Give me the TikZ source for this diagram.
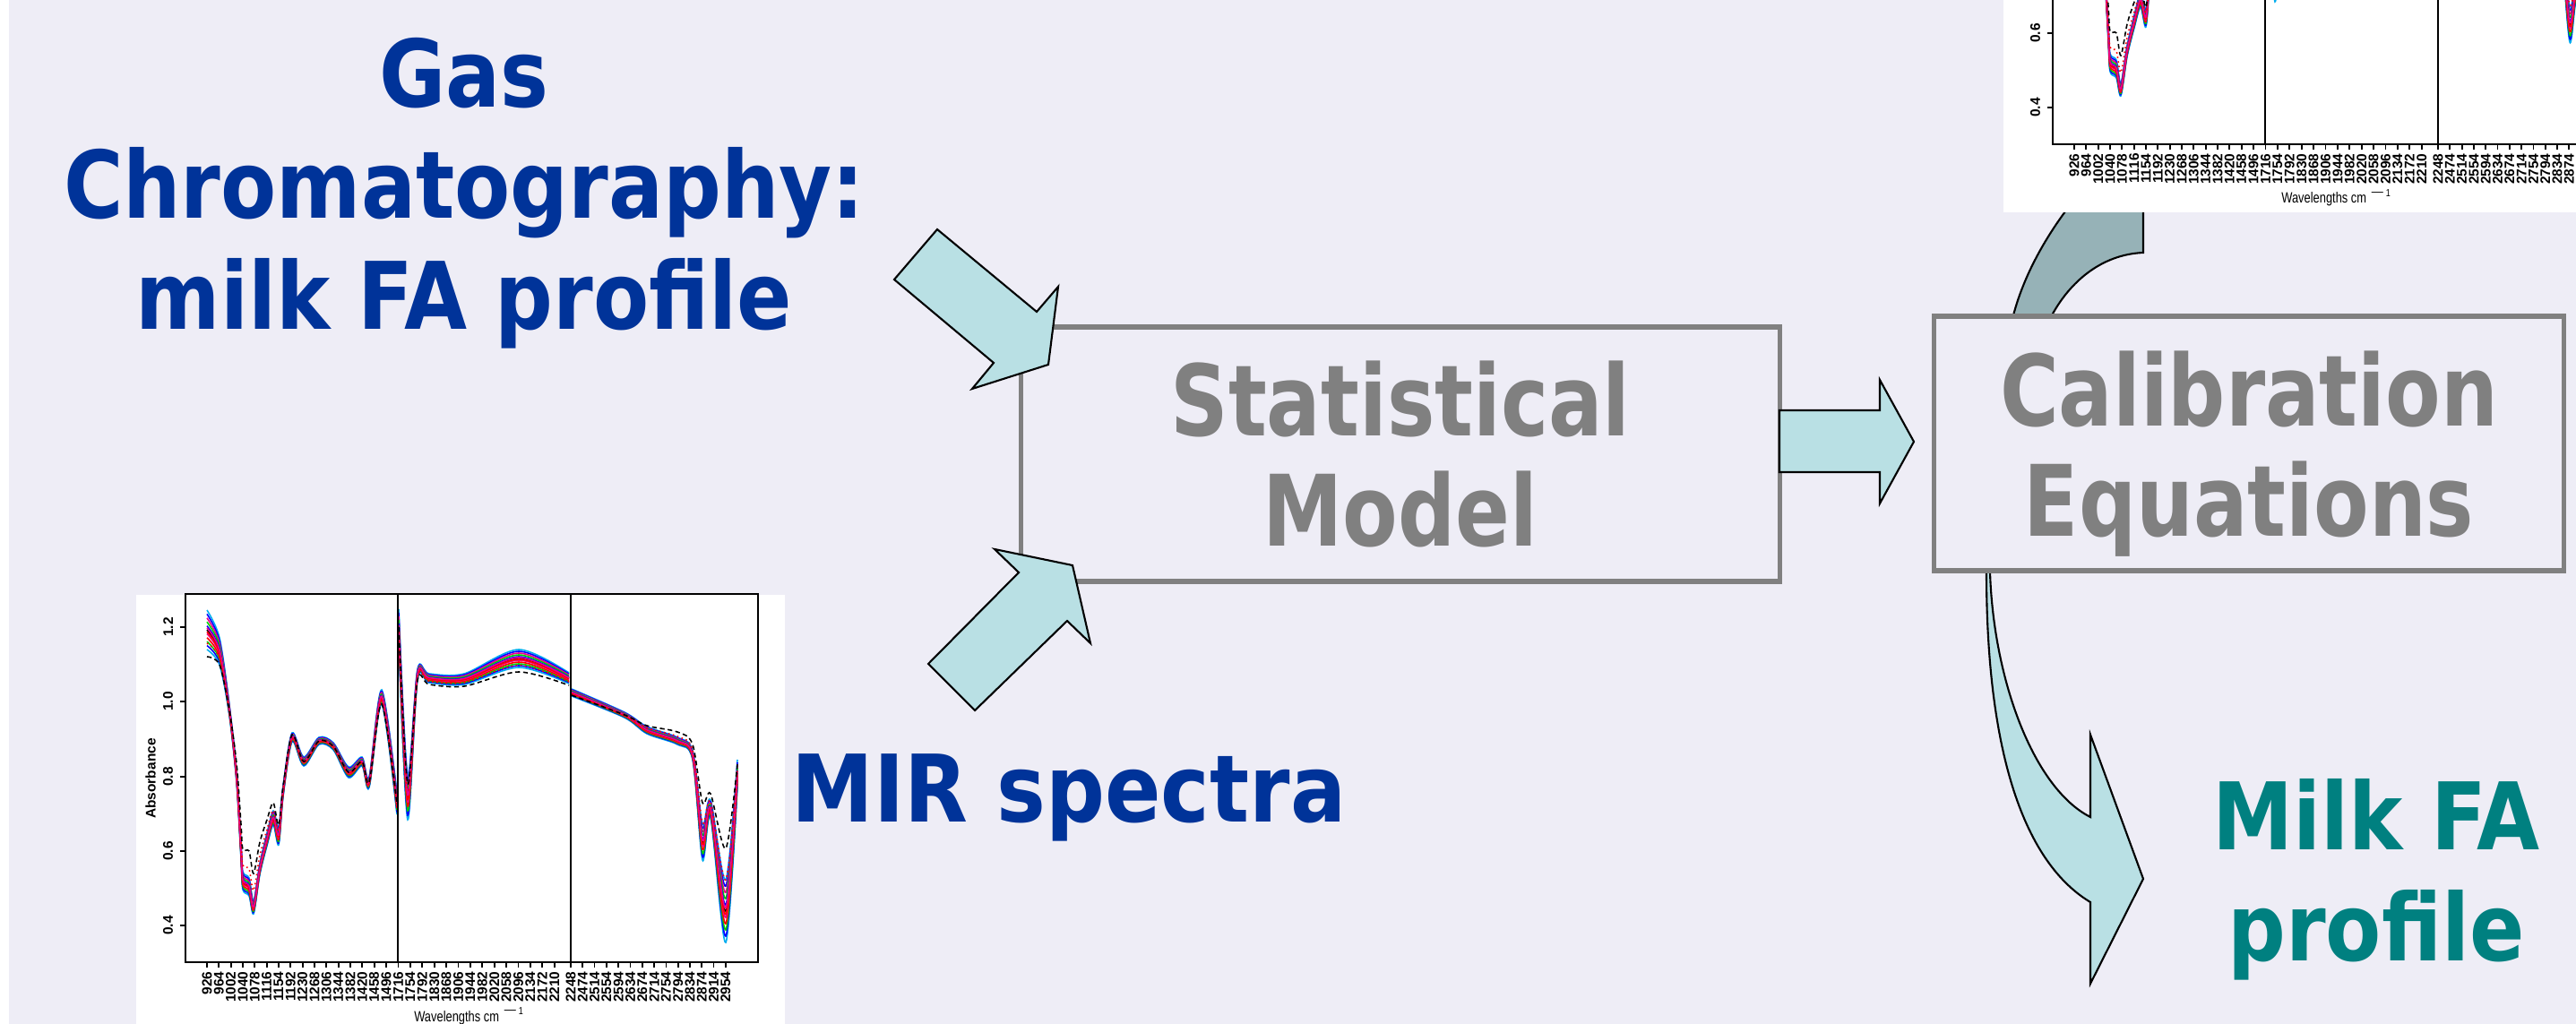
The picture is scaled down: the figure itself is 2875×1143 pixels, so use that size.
\documentclass[tikz,border=0pt]{standalone}
\usepackage{fontspec}
\newfontfamily\titlefont[FakeStretch=0.87]{DejaVu Sans}
\newfontfamily\mirfont[FakeStretch=0.885]{DejaVu Sans}
\newfontfamily\boxfont[FakeStretch=0.815]{DejaVu Sans}
\newfontfamily\axisfont{Liberation Sans}
\newfontfamily\narrowfont[FakeStretch=0.78]{Liberation Sans}
\definecolor{lavender}{RGB}{238,237,246}
\definecolor{gcblue}{RGB}{0,51,153}
\definecolor{milkteal}{RGB}{0,128,128}
\definecolor{boxgrey}{RGB}{128,128,128}
\definecolor{arrowcyan}{RGB}{185,224,228}
\definecolor{loopgrey}{RGB}{150,178,183}
\definecolor{rgreen}{RGB}{0,205,0}

% one spectrum: #1 spread factor, #2 outlier factor, #3 line style
\newcommand{\specline}[3]{%
  \draw[line width=0.45pt,#3] plot[smooth,tension=0.5] coordinates {
    (231,{703+(#1)*22+(#2)*30}) (245,{727+(#1)*15+(#2)*15})
    (256,{793+(#1)*6}) (264,{867+(#1)*6-(#2)*15})
    (269,{950+(#1)*8-(#2)*30}) (271,{983+(#1)*10-(#2)*35})
    (278,{990+(#1)*10-(#2)*40}) (283,{1013+(#1)*7-(#2)*38})
    (290,{970+(#1)*6-(#2)*30}) (298,{937+(#1)*7-(#2)*22})
    (305,{913+(#1)*8-(#2)*17}) (311,{933+(#1)*10-(#2)*12})
    (316,{883+(#1)*6-(#2)*5}) (326,{823+(#1)*5-(#2)*3})
    (339,{850+(#1)*5}) (356,{827+(#1)*4}) (372,{833+(#1)*4})
    (389,{862+(#1)*6}) (404,{850+(#1)*5}) (412,{873+(#1)*6})
    (426,{778+(#1)*8+(#2)*8}) (443,{897+(#1)*12})};
  \draw[line width=0.45pt,#3] plot[smooth,tension=0.5] coordinates {
    (445,{700+(#1)*20}) (455,{890+(#1)*25-(#2)*15})
    (466,{753+(#1)*6+(#2)*6}) (479,{757+(#1)*5+(#2)*7})
    (518,{758+(#1)*6+(#2)*8}) (579,{735+(#1)*10+(#2)*15})
    (635,{757+(#1)*6+(#2)*8})};
  \draw[line width=0.45pt,#3] plot[smooth,tension=0.5] coordinates {
    (638,{773+(#1)*4+(#2)*3}) (697,{798+(#1)*3})
    (722,{815+(#1)*4-(#2)*5}) (756,{827+(#1)*4-(#2)*10})
    (773,{843+(#1)*5-(#2)*12}) (784,{940+(#1)*20-(#2)*44})
    (793,{903+(#1)*10-(#2)*17}) (810,{1017+(#1)*35-(#2)*70})
    (823,{863+(#1)*15-(#2)*10})};
}

% the MIR absorbance plot, #1 prefix for node names
\newcommand{\spectrumplot}[1]{%
  \fill[white] (152,664) rectangle (876,1150);
  \foreach \k/\clr in {1/cyan,-1/cyan,0.8/blue,-0.8/blue,0.6/rgreen,-0.6/magenta,0.4/red,-0.4/rgreen,0.2/magenta,-0.2/blue,0/black,0.1/red,-0.1/magenta}
    {\specline{\k}{0}{color=\clr}}
  \specline{0}{0.5}{red,densely dotted}
  \specline{0}{1}{black,dash pattern=on 1.5pt off 1pt}
  \draw[line width=0.5pt] (207,663) rectangle (846,1074) (444,663) -- (444,1074) (637,663) -- (637,1074);
  \foreach \v/\y [count=\j] in {1.2/700,1.0/783,0.8/867,0.6/950,0.4/1033}
    {\draw[line width=0.5pt] (207,\y) -- (201,\y) node[ytick] (#1y\j) {\v};}
  \foreach \w [count=\i from 0] in {926,964,1002,1040,1078,1116,1154,1192,1230,1268,1306,1344,1382,1420,1458,1496}
    {\draw[line width=0.5pt] (231+\i*13.33,1074) -- ++(0,6) node[xtick] (#1xa\i) {\w};}
  \foreach \w [count=\i from 0] in {1716,1754,1792,1830,1868,1906,1944,1982,2020,2058,2096,2134,2172,2210}
    {\draw[line width=0.5pt] (444.5+\i*13.4,1074) -- ++(0,6) node[xtick] (#1xb\i) {\w};}
  \foreach \w [count=\i from 0] in {2248,2474,2514,2554,2594,2634,2674,2714,2754,2794,2834,2874,2914,2954}
    {\draw[line width=0.5pt] (637+\i*13.3,1074) -- ++(0,6) node[xtick] (#1xc\i) {\w};}
  \node[ylabel] (#1ylab) at (168,869) {Absorbance};
  \node[xlabel] (#1xlab) at (524,1140) {Wavelengths cm\,\textsuperscript{$-$1}};
}

\begin{document}
\begin{tikzpicture}[
  x=0.01cm, y=-0.01cm,
  modelbox/.style={draw=boxgrey,line width=1.5pt,fill=lavender,text=boxgrey,align=center,minimum height=2.84cm,
    font=\boxfont\bfseries\fontsize{31.3}{35}\selectfont},
  bigtext/.style={align=center,inner sep=0pt,font=\titlefont\bfseries\fontsize{29.6}{35.3}\selectfont},
  blockarrow/.style={draw=black,line width=0.6pt,fill=arrowcyan,line join=miter},
  ytick/.style={rotate=90,anchor=south,inner sep=2pt,font=\axisfont\bfseries\fontsize{4.4}{5}\selectfont},
  xtick/.style={rotate=90,anchor=east,inner sep=1pt,font=\axisfont\bfseries\fontsize{4.4}{5}\selectfont},
  ylabel/.style={rotate=90,inner sep=0pt,font=\axisfont\bfseries\fontsize{4.4}{5}\selectfont},
  xlabel/.style={anchor=base,inner sep=0pt,font=\narrowfont\fontsize{4.7}{6}\selectfont}
]
  \useasboundingbox (0,0) rectangle (2875,1143);
  \clip (0,0) rectangle (2875,1143);
  \fill[lavender] (0,0) rectangle (2875,1143);
  \fill[white] (0,0) rectangle (10,1143);

  % curved arrows, partly hidden by the boxes and the plot
  \draw[blockarrow,fill=loopgrey] (2240,372) -- (2247,352) .. controls (2258,310) and (2280,270) .. (2305,236)
    -- (2330,200) -- (2392,200) -- (2392,282) .. controls (2345,284) and (2310,315) .. (2290,352) -- (2284,372) -- cycle;
  \draw[blockarrow] (2217,620) -- (2217,639) .. controls (2217,830) and (2255,960) .. (2333,1007)
    -- (2333,1098) -- (2392,981) -- (2333,820) -- (2333,912) .. controls (2270,880) and (2225,760) .. (2221,639)
    -- (2221,620) -- cycle;

  % spectra
  \spectrumplot{b}
  \begin{scope}[shift={(2084,-913)}]
    \spectrumplot{t}
  \end{scope}

  % boxes
  \node[modelbox,minimum width=8.46cm] (stat) at (1563,507) {Statistical\\Model};
  \node[modelbox,minimum width=7.02cm,text depth=0pt] (calib) at (2510,495) {Calibration\\Equations};

  % block arrows
  \draw[blockarrow] (998,312) -- (1046,256) -- (1157,348) -- (1181,320) -- (1170,407) -- (1085,434) -- (1109,405) -- cycle;
  \draw[blockarrow] (1036,741) -- (1137,639) -- (1110,613) -- (1197,631) -- (1217,718) -- (1191,693) -- (1088,793) -- cycle;
  \draw[blockarrow] (1986,458) -- (2098,458) -- (2098,424) -- (2136,493) -- (2098,562) -- (2098,527) -- (1986,527) -- cycle;

  % texts
  \node[bigtext,text=gcblue] (gc) at (518,216) {Gas\\Chromatography:\\milk FA profile};
  \node[bigtext,text=gcblue,anchor=base,font=\mirfont\bfseries\fontsize{29.6}{35.3}\selectfont] (mir) at (1193,917) {MIR spectra};
  \node[bigtext,text=milkteal] (milkfa) at (2652,982) {Milk FA\\profile};
\end{tikzpicture}
\end{document}
